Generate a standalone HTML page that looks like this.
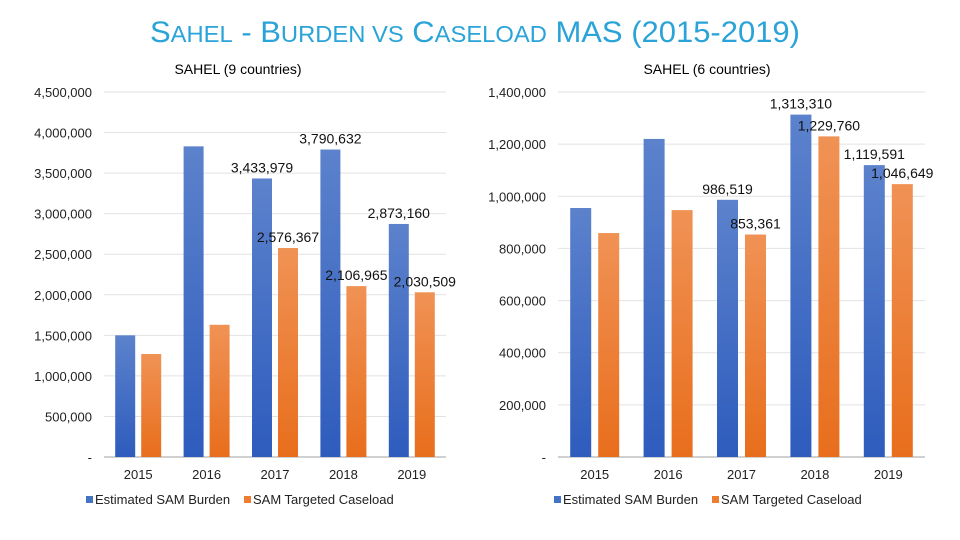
<!DOCTYPE html>
<html><head><meta charset="utf-8"><style>
html,body{margin:0;padding:0;background:#fff;width:960px;height:540px;overflow:hidden}
svg{display:block}
text{font-family:"Liberation Sans Narrow","Liberation Sans",sans-serif}
</style></head><body>
<svg id="s" width="960" height="540" viewBox="0 0 960 540" xmlns="http://www.w3.org/2000/svg">
<defs>
<linearGradient id="gb" x1="0" y1="0" x2="0" y2="1"><stop offset="0" stop-color="#5c82cc"/><stop offset="1" stop-color="#2e5cbd"/></linearGradient>
<linearGradient id="go" x1="0" y1="0" x2="0" y2="1"><stop offset="0" stop-color="#f09255"/><stop offset="1" stop-color="#e86e1c"/></linearGradient>
</defs>
<text x="475" y="42" text-anchor="middle" fill="#2aa3d8" font-size="30" textLength="650" lengthAdjust="spacingAndGlyphs">S<tspan font-size="23">AHEL</tspan> - B<tspan font-size="23">URDEN VS</tspan> C<tspan font-size="23">ASELOAD</tspan> MAS (2015-2019)</text>
</svg>
<script>
const years=["2015","2016","2017","2018","2019"];
const leftBurden=[1500000,3830000,3433979,3790632,2873160];
const leftCaseload=[1270000,1630000,2576367,2106965,2030509];
const leftBurdenLabels=["","","3,433,979","3,790,632","2,873,160"];
const leftCaseloadLabels=["","","2,576,367","2,106,965","2,030,509"];
const leftTicks=[0,500000,1000000,1500000,2000000,2500000,3000000,3500000,4000000,4500000];
const rightBurden=[955000,1220000,986519,1313310,1119591];
const rightCaseload=[859000,947000,853361,1229760,1046649];
const rightBurdenLabels=["","","986,519","1,313,310","1,119,591"];
const rightCaseloadLabels=["","","853,361","1,229,760","1,046,649"];
const rightTicks=[0,200000,400000,600000,800000,1000000,1200000,1400000];

const NS="http://www.w3.org/2000/svg";
const svg=document.getElementById('s');
function el(tag,attrs,parent){const e=document.createElementNS(NS,tag);for(const k in attrs)e.setAttribute(k,attrs[k]);(parent||svg).appendChild(e);return e;}
function fmt(v){return v===0?"-":v.toLocaleString('en-US');}

function chart(cfg){
  const g=el('g',{});
  
  
  const y=v=>cfg.y0-(v/cfg.max)*(cfg.y0-cfg.y1);
  const cw=(cfg.x1-cfg.x0)/years.length;
  const t=el('text',{x:cfg.titleX,y:74,'text-anchor':'middle','font-size':14,fill:'#000'},g);
  t.textContent=cfg.title;
  
  
  cfg.ticks.forEach(v=>{
    const yy=y(v);
    const ln=el('line',{x1:cfg.x0,x2:cfg.x1,y1:yy,y2:yy,stroke:v===0?'#d0d0d0':'#e2e2e2','stroke-width':v===0?2:1},g);
    
    
    const tx=el('text',{x:cfg.labelX,y:yy+5,'text-anchor':'end','font-size':13,fill:'#222'},g);
    tx.textContent=fmt(v);
    
    
  });
  years.forEach((yr,i)=>{
    const c=cfg.x0+cw*(i+0.5);
    const bx=c-cfg.bw-cfg.gap/2, ox=c+cfg.gap/2;
    const b=el('rect',{x:bx,y:y(cfg.burden[i]),width:cfg.bw,height:cfg.y0-y(cfg.burden[i]),fill:'url(#gb)'},g);
    
    
    const o=el('rect',{x:ox,y:y(cfg.caseload[i]),width:cfg.bw,height:cfg.y0-y(cfg.caseload[i]),fill:'url(#go)'},g);
    
    
    const xl=el('text',{x:c,y:479,'text-anchor':'middle','font-size':13,fill:'#222'},g);
    xl.textContent=yr;
    
    
    if(cfg.bl[i]){
      const l=el('text',{x:bx+cfg.bw/2,y:y(cfg.burden[i])-6,'text-anchor':'middle','font-size':14,fill:'#111'},g);
      l.textContent=cfg.bl[i];
      
      
    }
    if(cfg.cl[i]){
      const l=el('text',{x:ox+cfg.bw/2,y:y(cfg.caseload[i])-6,'text-anchor':'middle','font-size':14,fill:'#111'},g);
      l.textContent=cfg.cl[i];
      
      
    }
  });
  const lg=el('g',{},g);
  
  
  el('rect',{x:cfg.legX,y:496,width:7,height:7,fill:'#4472c4'},lg);
  const a=el('text',{x:cfg.legX+9,y:504,'font-size':13,fill:'#222'},lg);
  a.textContent='Estimated SAM Burden';
  
  
  el('rect',{x:cfg.legX+158,y:496,width:7,height:7,fill:'#ed7d31'},lg);
  const b2=el('text',{x:cfg.legX+167,y:504,'font-size':13,fill:'#222'},lg);
  b2.textContent='SAM Targeted Caseload';
  
  
}
chart({name:'left-chart',title:'SAHEL (9 countries)',titleX:238,x0:104,x1:446,y0:457,y1:92,max:4500000,ticks:leftTicks,labelX:92,bw:20,gap:6,burden:leftBurden,caseload:leftCaseload,bl:leftBurdenLabels,cl:leftCaseloadLabels,legX:86});
chart({name:'right-chart',title:'SAHEL (6 countries)',titleX:707,x0:558,x1:925,y0:457,y1:92,max:1400000,ticks:rightTicks,labelX:546,bw:21,gap:7,burden:rightBurden,caseload:rightCaseload,bl:rightBurdenLabels,cl:rightCaseloadLabels,legX:554});
</script>
</body></html>
